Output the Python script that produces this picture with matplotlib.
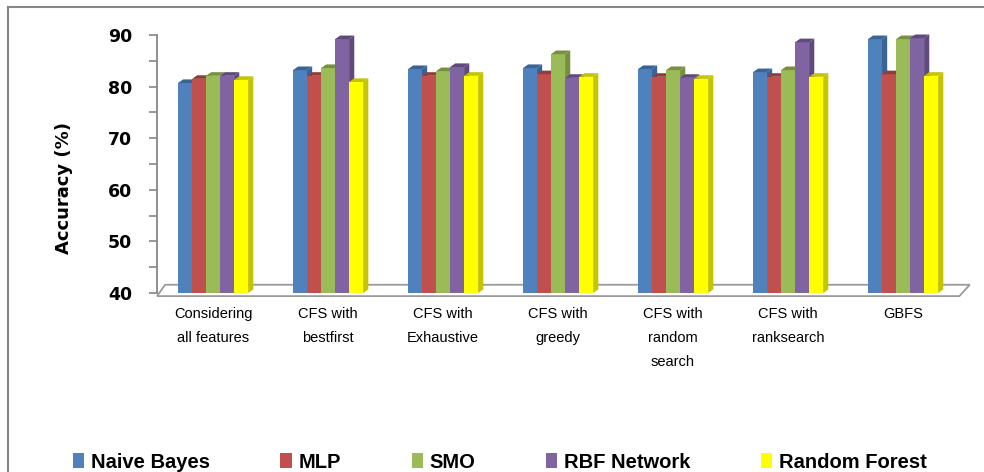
# --------------------------- ACCURACY OF FEATURE SELECTION METHODS ---------------------------

# This script plots classifier accuracy for the feature selection methods as an Excel-like 3D bar chart.


# --------------------------- IMPORT LIBRARIES ---------------------------

# Import standard python libraries.
import numpy as np
import matplotlib
matplotlib.use('Agg')
import matplotlib.pyplot as plt
from matplotlib.patches import Patch, Polygon
from matplotlib.lines import Line2D


# --------------------------- DEFINE THE DATA ---------------------------

# Define the feature selection methods (x axis categories).
methods = ['Considering\nall features', 'CFS with\nbestfirst', 'CFS with\nExhaustive', 'CFS with\ngreedy',
           'CFS with\nrandom\nsearch', 'CFS with\nranksearch', 'GBFS']

# Define the classifiers (series names).
classifiers = ['Naive Bayes', 'MLP', 'SMO', 'RBF Network', 'Random Forest']

# Define the accuracy of each classifier [%].
acc_naive_bayes = [80.7, 83.2, 83.4, 83.6, 83.4, 82.8, 89.2]
acc_mlp = [81.5, 82.1, 82.1, 82.4, 81.9, 81.9, 82.4]
acc_smo = [82.1, 83.6, 83.0, 86.3, 83.2, 83.2, 89.2]
acc_rbf = [82.1, 89.2, 83.8, 81.7, 81.7, 88.6, 89.4]
acc_random_forest = [81.3, 80.9, 82.1, 81.9, 81.5, 81.9, 82.1]

# Define the y axis ticks.
y_major_ticks = [40, 50, 60, 70, 80, 90]
y_minor_ticks = [45, 55, 65, 75, 85]


# --------------------------- DEFINE PLOT PROPERTIES ---------------------------

# Define series colours (front faces) and the darker shades used for the side & top faces.
front_colors = ['#4F81BD', '#C0504D', '#9BBB59', '#8064A2', '#FFFF00']
side_colors = ['#3A6396', '#943C3A', '#76903F', '#5F4A7C', '#C4C400']

# Define the bar geometry in data units.
bar_width = 0.122           # [-] Front face width of each bar.
depth_dx = 0.045            # [-] Horizontal depth of the 3D effect.
depth_dy = 0.7              # [%] Vertical depth of the 3D effect.
y_floor = 40                # [%] Floor level.

# Define fonts.
label_font = 'Liberation Sans'
grey = '#868686'


# --------------------------- BUILD THE FIGURE ---------------------------

# Create the figure & axes.
fig = plt.figure(figsize=(9.84, 4.72), dpi=100)
ax = fig.add_axes([0.1596, 0.3792, 0.8313, 0.5466])

# Draw the chart border (top & left visible only).
fig.add_artist(Line2D([8/984, 1.0], [1 - 7/472, 1 - 7/472], transform=fig.transFigure, color=grey, lw=1.5))
fig.add_artist(Line2D([8/984, 8/984], [0.0, 1 - 7/472], transform=fig.transFigure, color=grey, lw=1.5))

# Draw the floor of the 3D chart.
floor = Polygon([(-0.487, 39.4), (-0.417, 41.6), (6.58, 41.6), (6.49, 39.4)], closed=True,
                facecolor='white', edgecolor='#9A9A9A', lw=1.3, clip_on=False, zorder=1)
ax.add_patch(floor)

# Plot the bars, series by series.
series = [acc_naive_bayes, acc_mlp, acc_smo, acc_rbf, acc_random_forest]
x = np.arange(len(methods))
for j, values in enumerate(series):
    xs = x + (j - 2)*bar_width
    bars = ax.bar(xs, np.array(values) - y_floor, bottom=y_floor, width=bar_width,
                  color=front_colors[j], edgecolor='none', zorder=2 + 2*j, label=classifiers[j])

    # Add the side & top faces of every bar.
    for b in bars:
        x0 = b.get_x(); w = b.get_width(); h = b.get_y() + b.get_height()
        side = Polygon([(x0 + w, y_floor), (x0 + w + depth_dx, y_floor + depth_dy),
                        (x0 + w + depth_dx, h + depth_dy), (x0 + w, h)], closed=True,
                       facecolor=side_colors[j], edgecolor='none', clip_on=False, zorder=3 + 2*j)
        top = Polygon([(x0, h), (x0 + depth_dx, h + depth_dy), (x0 + w + depth_dx, h + depth_dy), (x0 + w, h)],
                      closed=True, facecolor=side_colors[j], edgecolor='none', clip_on=False, zorder=3 + 2*j)
        ax.add_patch(side); ax.add_patch(top)

# Set the axis limits.
ax.set_xlim(-0.487, 6.626)
ax.set_ylim(40, 90)

# Style the spines.
for s in ['top', 'right', 'bottom']:
    ax.spines[s].set_visible(False)
ax.spines['left'].set_color(grey)
ax.spines['left'].set_linewidth(1.3)

# Set the y ticks.
ax.set_yticks(y_major_ticks)
ax.set_yticks(y_minor_ticks, minor=True)
ax.set_yticklabels([str(t) for t in y_major_ticks], fontsize=12.5, fontweight='bold')
ax.tick_params(axis='y', which='both', length=6, width=1.2, color=grey, pad=12)

# Set the x ticks (category labels).
ax.set_xticks(x)
ax.set_xticklabels(methods, fontsize=10.5, family=label_font, linespacing=1.9, va='top')
ax.tick_params(axis='x', length=0, pad=10)

# Set the y label.
ax.set_ylabel('Accuracy (%)', fontsize=13, fontweight='bold')
ax.yaxis.set_label_coords(-0.103, 0.407)

# Add the legend at the bottom.
handles = [Patch(facecolor=c, edgecolor='none') for c in front_colors]
fig.legend(handles, classifiers, loc='center', bbox_to_anchor=(0.508, 0.021), ncol=5, frameon=False,
           prop={'family': label_font, 'weight': 'bold', 'size': 14.5},
           handlelength=0.55, handleheight=0.7, handletextpad=0.35, columnspacing=3.5)

# Save the figure.
fig.savefig('out.png', dpi=100)
